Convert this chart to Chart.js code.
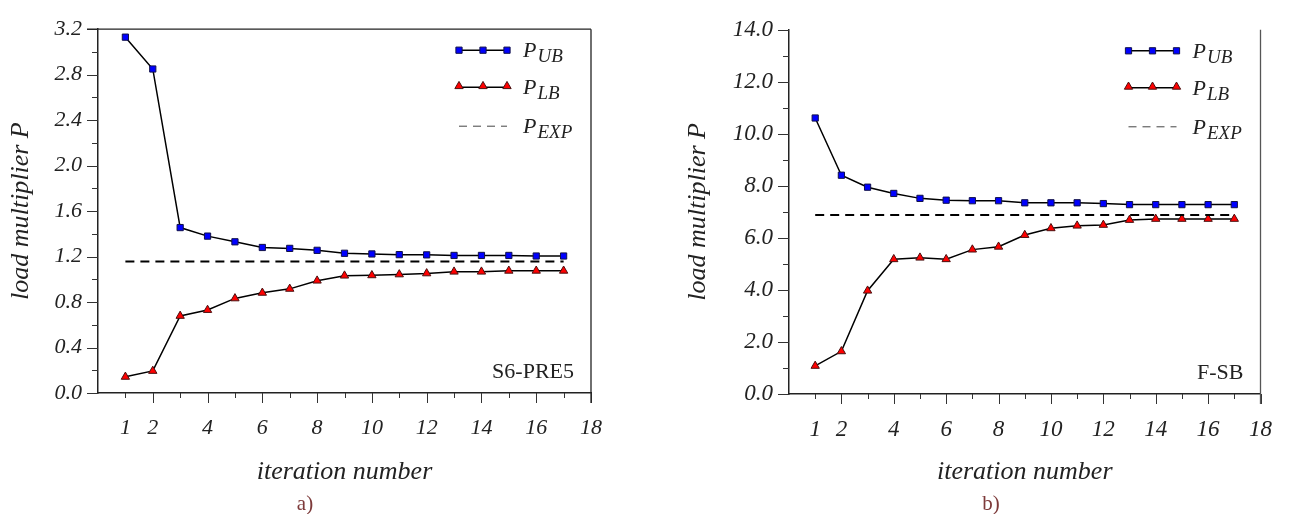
<!DOCTYPE html>
<html>
<head>
<meta charset="utf-8">
<script src="https://cdn.jsdelivr.net/npm/chart.js@4.4.1/dist/chart.umd.min.js"></script>
<style>
  html, body { margin: 0; padding: 0; background: #fff; }
  .panel { position: absolute; top: 0; width: 647px; height: 514px; }
</style>
</head>
<body>
<div class="panel" style="left:0"><canvas id="chart-a"></canvas></div>
<div class="panel" style="left:647px"><canvas id="chart-b"></canvas></div>
<script>
// iteration numbers on the x axis
const iterations = [1, 2, 3, 4, 5, 6, 7, 8, 9, 10, 11, 12, 13, 14, 15, 16, 17];
const xTicks = [1, 2, 3, 4, 5, 6, 7, 8, 9, 10, 11, 12, 13, 14, 15, 16, 17, 18];
const xLabeled = [1, 2, 4, 6, 8, 10, 12, 14, 16, 18];

// a) S6-PRE5
const ubA = [3.13, 2.85, 1.455, 1.38, 1.33, 1.28, 1.272, 1.255, 1.229, 1.223, 1.217, 1.215, 1.21, 1.21, 1.21, 1.205, 1.205];
const lbA = [0.142, 0.194, 0.678, 0.73, 0.832, 0.881, 0.916, 0.988, 1.032, 1.035, 1.043, 1.052, 1.067, 1.067, 1.075, 1.075, 1.075];
const expA = 1.157;
const yTicksA = [0, 0.2, 0.4, 0.6, 0.8, 1.0, 1.2, 1.4, 1.6, 1.8, 2.0, 2.2, 2.4, 2.6, 2.8, 3.0, 3.2];
const yLabeledA = [0, 0.4, 0.8, 1.2, 1.6, 2.0, 2.4, 2.8, 3.2];

// b) F-SB
const ubB = [10.61, 8.41, 7.95, 7.71, 7.52, 7.45, 7.43, 7.43, 7.35, 7.35, 7.35, 7.32, 7.28, 7.28, 7.28, 7.28, 7.28];
const lbB = [1.08, 1.64, 3.97, 5.18, 5.24, 5.18, 5.55, 5.66, 6.11, 6.37, 6.47, 6.50, 6.69, 6.73, 6.73, 6.73, 6.73];
const expB = 6.88;
const yTicksB = [0, 1, 2, 3, 4, 5, 6, 7, 8, 9, 10, 11, 12, 13, 14];
const yLabeledB = [0, 2, 4, 6, 8, 10, 12, 14];

const SERIF = "'Liberation Serif', 'Times New Roman', serif";

function isIn(list, v) {
    return list.some((t) => Math.abs(t - v) < 1e-6);
}

function line(ctx, x1, y1, x2, y2) {
    ctx.beginPath();
    ctx.moveTo(x1, y1);
    ctx.lineTo(x2, y2);
    ctx.stroke();
}

// tick marks, borders, legend, captions
const decorPlugin = {
    id: 'decor',
    afterDraw(chart, args, opts) {
        const ctx = chart.ctx;
        const area = chart.chartArea;
        const xs = chart.scales.x;
        const ys = chart.scales.y;
        ctx.save();

        // tick marks
        ctx.strokeStyle = '#333';
        ctx.lineWidth = 1;
        xTicks.forEach((v) => {
            const px = Math.round(xs.getPixelForValue(v)) + 0.5;
            const len = v % 2 === 0 ? 10 : 5;
            line(ctx, px, area.bottom, px, area.bottom + len);
        });
        opts.yTicks.forEach((v) => {
            const py = Math.round(ys.getPixelForValue(v)) + 0.5;
            const len = isIn(opts.yLabeled, v) ? 11 : 6;
            line(ctx, area.left - len, py, area.left, py);
        });

        // frame
        ctx.strokeStyle = opts.frameColor;
        ctx.lineWidth = 1.3;
        if (opts.topBorder) {
            line(ctx, area.left - 11, area.top, area.right, area.top);
        }
        line(ctx, area.right, area.top, area.right, area.bottom + 10);

        // legend
        const lx1 = area.right - 132, lx2 = area.right - 84, tx = area.right - 68;
        const rows = [area.top + 21, area.top + 58, area.top + 97];
        ctx.strokeStyle = '#000';
        ctx.lineWidth = 1.5;
        line(ctx, lx1, rows[0], lx2, rows[0]);
        line(ctx, lx1, rows[1], lx2, rows[1]);
        [lx1, (lx1 + lx2) / 2, lx2].forEach((mx) => {
            ctx.fillStyle = '#0000ff';
            ctx.strokeStyle = '#10104a';
            ctx.lineWidth = 1;
            Chart.helpers.drawPoint(ctx, { pointStyle: 'rect', radius: 4.4, rotation: 0, borderWidth: 1 }, mx, rows[0]);
            ctx.fillStyle = '#ff0000';
            ctx.strokeStyle = '#4a1010';
            Chart.helpers.drawPoint(ctx, { pointStyle: 'triangle', radius: 4.8, rotation: 0, borderWidth: 1 }, mx, rows[1] - 1);
        });
        ctx.strokeStyle = '#444';
        ctx.lineWidth = 1;
        ctx.setLineDash([8, 6]);
        line(ctx, lx1, rows[2], lx2, rows[2]);
        ctx.setLineDash([]);

        ctx.fillStyle = '#222';
        ctx.textBaseline = 'alphabetic';
        ctx.textAlign = 'left';
        ['UB', 'LB', 'EXP'].forEach((sub, i) => {
            ctx.font = 'italic 22px ' + SERIF;
            ctx.fillText('P', tx, rows[i] + 7);
            const w = ctx.measureText('P').width;
            ctx.font = 'italic 19px ' + SERIF;
            ctx.fillText(sub, tx + w + 1, rows[i] + 12);
        });

        // specimen name
        ctx.font = '22px ' + SERIF;
        ctx.textAlign = 'right';
        ctx.fillText(opts.caption, area.right - 17, area.bottom - 15);

        // panel tag
        ctx.fillStyle = '#7d3a3a';
        ctx.font = '21px ' + SERIF;
        ctx.textAlign = 'center';
        ctx.fillText(opts.tag, opts.tagX, 510);

        ctx.restore();
    }
};

function makeChart(id, p) {
    const ctx = document.getElementById(id).getContext('2d');
    return new Chart(ctx, {
        type: 'line',
        data: {
            datasets: [
                {
                    label: 'P_EXP',
                    data: [iterations[0], iterations[iterations.length - 1]].map((x) => ({ x: x, y: p.exp })),
                    borderColor: '#000',
                    borderWidth: 2,
                    borderDash: [9, 6],
                    pointRadius: 0,
                    fill: false,
                },
                {
                    label: 'P_LB',
                    data: iterations.map((x, i) => ({ x: x, y: p.lb[i] })),
                    borderColor: '#000',
                    borderWidth: 1.5,
                    pointStyle: 'triangle',
                    pointRadius: 4.8,
                    pointBackgroundColor: '#ff0000',
                    pointBorderColor: '#4a1010',
                    pointBorderWidth: 1,
                    tension: 0,
                    fill: false,
                },
                {
                    label: 'P_UB',
                    data: iterations.map((x, i) => ({ x: x, y: p.ub[i] })),
                    borderColor: '#000',
                    borderWidth: 1.5,
                    pointStyle: 'rect',
                    pointRadius: 4.4,
                    pointBackgroundColor: '#0000ff',
                    pointBorderColor: '#10104a',
                    pointBorderWidth: 1,
                    tension: 0,
                    fill: false,
                },
            ],
        },
        options: {
            responsive: true,
            maintainAspectRatio: false,
            animation: false,
            devicePixelRatio: 1,
            layout: { padding: { top: p.top, right: p.right, left: 0, bottom: 0 } },
            plugins: {
                legend: { display: false },
                tooltip: { enabled: false },
                decor: {
                    yTicks: p.yTicks,
                    yLabeled: p.yLabeled,
                    caption: p.caption,
                    tag: p.tag,
                    tagX: p.tagX,
                    topBorder: p.topBorder,
                    frameColor: p.frameColor,
                },
            },
            scales: {
                x: {
                    type: 'linear',
                    min: 0,
                    max: 18,
                    afterBuildTicks: (scale) => { scale.ticks = xTicks.map((v) => ({ value: v })); },
                    afterFit: (scale) => { scale.height = p.xHeight; },
                    grid: { display: false, drawTicks: false },
                    border: { display: true, color: '#222', width: 1.5 },
                    ticks: {
                        autoSkip: false,
                        maxRotation: 0,
                        padding: 22,
                        color: '#222',
                        font: { family: SERIF, style: 'italic', size: p.tickSize },
                        callback: (v) => (isIn(xLabeled, v) ? String(v) : ''),
                    },
                    title: {
                        display: true,
                        text: 'iteration number',
                        color: '#222',
                        font: { family: SERIF, style: 'italic', size: 26 },
                        padding: { top: 0, bottom: 26 },
                    },
                },
                y: {
                    type: 'linear',
                    min: 0,
                    max: p.yMax,
                    afterBuildTicks: (scale) => { scale.ticks = p.yTicks.map((v) => ({ value: v })); },
                    afterFit: (scale) => { scale.width = p.yWidth; },
                    grid: { display: false, drawTicks: false },
                    border: { display: true, color: '#222', width: 1.5 },
                    ticks: {
                        autoSkip: false,
                        padding: 16,
                        color: '#222',
                        font: { family: SERIF, style: 'italic', size: p.tickSize },
                        callback: (v) => (isIn(p.yLabeled, v) ? v.toFixed(1) : ''),
                    },
                    title: {
                        display: true,
                        text: 'load multiplier P',
                        color: '#222',
                        font: { family: SERIF, style: 'italic', size: 26 },
                        padding: { top: p.yTitlePad, bottom: 0 },
                    },
                },
            },
        },
        plugins: [decorPlugin],
    });
}

makeChart('chart-a', {
    ub: ubA, lb: lbA, exp: expA, yMax: 3.2,
    yTicks: yTicksA, yLabeled: yLabeledA,
    caption: 'S6-PRE5', tag: 'a)', tagX: 305,
    top: 25, right: 56, yWidth: 98, xHeight: 121,
    tickSize: 22, yTitlePad: 6, topBorder: true, frameColor: '#222',
});

makeChart('chart-b', {
    ub: ubB, lb: lbB, exp: expB, yMax: 14,
    yTicks: yTicksB, yLabeled: yLabeledB,
    caption: 'F-SB', tag: 'b)', tagX: 344,
    top: 27, right: 11, yWidth: 142, xHeight: 120,
    tickSize: 23, yTitlePad: 36, topBorder: false, frameColor: '#555',
});
</script>
</body>
</html>
